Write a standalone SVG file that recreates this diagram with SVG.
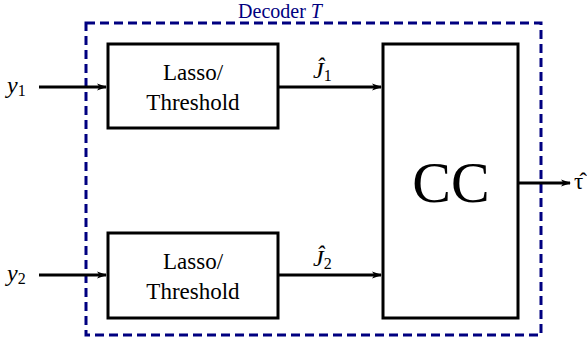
<svg xmlns="http://www.w3.org/2000/svg" width="587" height="345" viewBox="0 0 587 345">
<style>
.box{fill:#fff;stroke:#000;stroke-width:3}
text{font-family:"Liberation Serif","Times New Roman","DejaVu Serif","Noto Serif",serif;fill:#000}
.i{font-style:italic}
.n{font-style:normal}
.c{stroke:#000;stroke-width:3;fill:none}
</style>
<defs>
<marker id="ah" markerWidth="10" markerHeight="8" refX="9" refY="4" orient="auto" markerUnits="userSpaceOnUse">
<path d="M0,0.5 L10,4 L0,7.5 L2.5,4 Z" fill="#000"/>
</marker>
</defs>
<g id="decoder">
<rect x="86" y="23" width="455" height="312" fill="none" stroke="#000080" stroke-width="3" stroke-dasharray="9,5"/>
<text x="280" y="18" text-anchor="middle" font-size="20" style="fill:#000080">Decoder <tspan class="i">T</tspan></text>
</g>
<g id="lasso1">
<rect class="box" x="108" y="44" width="170" height="84"/>
<text x="193" y="80" text-anchor="middle" font-size="23">Lasso/</text>
<text x="193" y="110" text-anchor="middle" font-size="23">Threshold</text>
</g>
<g id="lasso2">
<rect class="box" x="108" y="233" width="170" height="85"/>
<text x="193" y="269" text-anchor="middle" font-size="23">Lasso/</text>
<text x="193" y="299" text-anchor="middle" font-size="23">Threshold</text>
</g>
<g id="cc">
<rect class="box" x="383" y="44" width="135" height="274"/>
<text x="451" y="202" text-anchor="middle" font-size="58">CC</text>
</g>
<g id="connectors">
<path class="c" d="M39,87 H106" marker-end="url(#ah)"/>
<path class="c" d="M39,275 H106" marker-end="url(#ah)"/>
<path class="c" d="M278,87 H381" marker-end="url(#ah)"/>
<path class="c" d="M278,275 H381" marker-end="url(#ah)"/>
<path class="c" d="M518,183 H570" marker-end="url(#ah)"/>
</g>
<g id="labels">
<text class="i" x="7" y="93" font-size="24">y<tspan class="n" font-size="16" dy="3">1</tspan></text>
<text class="i" x="7" y="281" font-size="24">y<tspan class="n" font-size="16" dy="3">2</tspan></text>
<text class="i" x="313" y="78" font-size="24">Ĵ<tspan class="n" font-size="16" dy="3">1</tspan></text>
<text class="i" x="313" y="266" font-size="24">Ĵ<tspan class="n" font-size="16" dy="3">2</tspan></text>
<text class="n" x="574" y="189" font-size="23">τ̂</text>
</g>
</svg>
